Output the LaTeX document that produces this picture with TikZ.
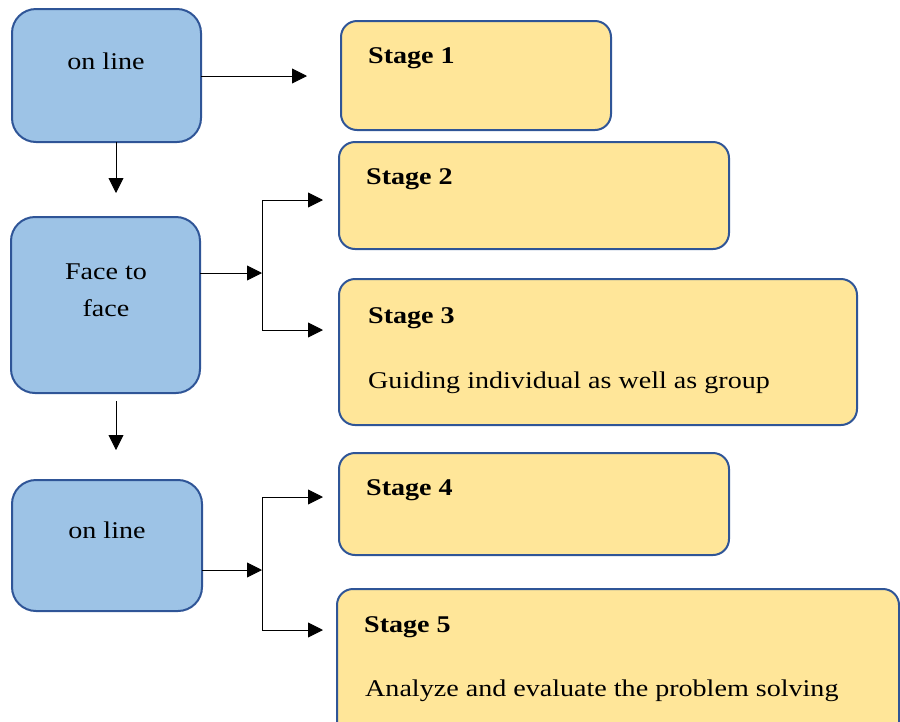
\documentclass[tikz,border=0pt]{standalone}
\usepackage{fontspec}
\setmainfont[FakeStretch=1.17]{Liberation Serif}
\usetikzlibrary{arrows.meta}
\definecolor{bluefill}{HTML}{9DC3E6}
\definecolor{yelfill}{HTML}{FFE699}
\definecolor{edge}{HTML}{2F5597}
\begin{document}
\begin{tikzpicture}[x=1pt,y=-1pt,
  bluebox/.style={draw=edge,fill=bluefill,line width=2pt,rounded corners=24pt},
  yelbox/.style={draw=edge,fill=yelfill,line width=2pt,rounded corners=16pt},
  txt/.style={font=\fontsize{24}{37}\selectfont,inner sep=0pt},
  head/.style={font=\fontsize{24}{29}\selectfont\bfseries,inner sep=0pt,anchor=base west},
  arr/.style={line width=0.9pt,-{Triangle[length=15pt,width=15pt]}},
  ln/.style={line width=0.9pt}]
\useasboundingbox (0,0) rectangle (900,721);
\clip (0,0) rectangle (900,721);
% blue boxes
\draw[bluebox] (12,9) rectangle (201,142);
\draw[bluebox] (11,217) rectangle (200,393);
\draw[bluebox] (12,480) rectangle (202,611);
\node[txt] (b1) at (106,61) {on line};
\node[txt,align=center] (b2) at (106,290) {Face to\\face};
\node[txt] (b3) at (107,530) {on line};
% yellow boxes
\draw[yelbox] (341,21) rectangle (611,130);
\draw[yelbox] (339,142) rectangle (729,249);
\draw[yelbox] (339,279) rectangle (857,425);
\draw[yelbox] (339,453) rectangle (729,555);
\draw[yelbox] (337,589) rectangle (899,740);
\node[head] (s1) at (368,63) {Stage 1};
\node[head] (s2) at (366,184) {Stage 2};
\node[head] (s3) at (368,323) {Stage 3};
\node[txt,anchor=base west] (t3) at (368,388) {Guiding individual as well as group};
\node[head] (s4) at (366,495) {Stage 4};
\node[head] (s5) at (364,632) {Stage 5};
\node[txt,anchor=base west] (t5) at (365,696) {Analyze and evaluate the problem solving};
% connectors
\coordinate (a1s) at (201,76); \coordinate (a1e) at (307,76);
\draw[arr] (a1s) -- (a1e);
\coordinate (d1s) at (116,142); \coordinate (d1e) at (116,193);
\draw[arr] (d1s) -- (d1e);
\coordinate (a2s) at (200,273); \coordinate (a2e) at (262,273);
\draw[arr] (a2s) -- (a2e);
\coordinate (j2t) at (262,200); \coordinate (j2b) at (262,330);
\draw[ln] (j2t) -- (j2b);
\draw[arr] (j2t) -- (323,200);
\draw[arr] (j2b) -- (323,330);
\coordinate (d2s) at (116,401); \coordinate (d2e) at (116,450);
\draw[arr] (d2s) -- (d2e);
\coordinate (a3s) at (202,570); \coordinate (a3e) at (262,570);
\draw[arr] (a3s) -- (a3e);
\coordinate (j3t) at (262,497); \coordinate (j3b) at (262,630);
\draw[ln] (j3t) -- (j3b);
\draw[arr] (j3t) -- (323,497);
\draw[arr] (j3b) -- (323,630);
\end{tikzpicture}
\end{document}
